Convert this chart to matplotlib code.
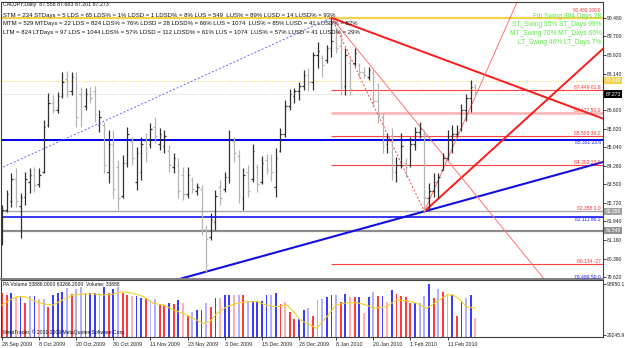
import matplotlib.pyplot as plt
import numpy as np

plt.rcParams['font.family'] = ['Liberation Sans', 'DejaVu Sans']

W, H = 625, 348


def fx(px):
    return px / W


def fy(py):
    return 1 - py / H


# ---- texts ----
title = 'CADJPY,Daily  87.558 87.683 87.201 87.273'
stats_lines = [
    'STM = 234 STDays = 5 LDS = 65 LDS% = 1% LDSD = 1 LDSD% = 8% LUS = 549  LUS% = 89% LUSD = 14 LUSD% = 93%',
    'MTM = 529 MTDays = 22 LDS = 824 LDS% = 76% LDSD = 28 LDSD% = 66% LUS = 1074  LUS% = 85% LUSD = 41 LUSD% = 82%',
    'LTM = 824 LTDays = 97 LDS = 1044 LDS% = 57% LDSD = 112 LDSD% = 61% LUS = 1074  LUS% = 57% LUSD = 41 LUSD% = 29%',
]
swing_lines = ['Fib Swing 804 Days 28', 'ST_Swing 95% ST_Days 99%',
               'MT_Swing 76% MT_Days 66%', 'LT_Swing 46% LT_Days 7%']
vol_title = 'PA Volume 33888.0000 63266.2000  Volume: 33888'
copyright_txt = 'MetaTrader, \u00a9 2001-2009 MetaQuotes Software Corp.'

date_labels = ['28 Sep 2009', '8 Oct 2009', '20 Oct 2009', '30 Oct 2009', '11 Nov 2009',
               '23 Nov 2009', '3 Dec 2009', '15 Dec 2009', '28 Dec 2009', '8 Jan 2010',
               '20 Jan 2010', '1 Feb 2010', '11 Feb 2010']
date_bars = [0, 8, 16, 24, 32, 40, 48, 56, 64, 72, 80, 88, 96]

# ---- daily OHLC ----
opens = [81.20, 82.40, 82.80, 83.70, 82.60, 82.95, 83.60, 83.90, 83.50, 84.00,
         86.00, 86.90, 86.60, 87.20, 87.90, 87.40, 87.95, 87.30, 86.80, 87.30,
         87.40, 86.00, 86.00, 84.00, 85.20, 84.20, 83.00, 84.40, 85.30, 83.60,
         84.00, 85.30, 85.20, 85.90, 85.20, 85.10, 84.90, 84.20, 84.30, 83.90,
         83.10, 83.70, 83.20, 83.30, 81.60, 81.30, 81.90, 83.40, 83.30, 83.80,
         85.30, 84.70, 82.90, 84.00, 83.70, 84.20, 83.60, 84.50, 84.60, 83.40,
         84.90, 85.60, 86.80, 87.20, 87.40, 87.60, 88.10, 87.80, 88.90, 88.80,
         88.70, 89.20, 89.60, 89.30, 87.60, 88.60, 88.60, 88.50, 88.20, 88.00,
         88.20, 87.00, 86.30, 85.20, 85.50, 84.00, 84.30, 84.40, 84.30, 85.20,
         85.70, 85.60, 82.90, 83.20, 83.60, 84.10, 84.60, 85.50, 85.60, 85.80,
         86.60, 87.10, 87.558]
highs = [82.63, 83.26, 83.96, 84.17, 83.12, 84.02, 84.17, 84.23, 84.17, 86.19,
         87.31, 87.24, 87.38, 88.22, 88.26, 88.22, 88.19, 87.59, 87.52, 87.59,
         87.62, 86.61, 86.12, 85.77, 85.77, 84.51, 84.72, 85.91, 85.49, 85.07,
         85.49, 85.63, 86.05, 86.33, 85.84, 85.77, 85.14, 84.80, 84.59, 84.23,
         84.23, 83.81, 83.54, 83.47, 81.79, 82.28, 83.26, 83.67, 84.02, 85.77,
         85.49, 84.93, 84.18, 84.30, 85.18, 84.35, 84.68, 84.77, 84.77, 85.02,
         85.86, 87.03, 87.49, 87.53, 87.79, 88.29, 88.37, 89.04, 89.46, 88.92,
         89.34, 90.48, 90.09, 89.84, 89.21, 88.79, 89.21, 88.58, 88.42, 88.42,
         88.37, 87.74, 86.48, 85.65, 85.86, 84.64, 85.65, 84.60, 85.48, 85.90,
         86.11, 85.77, 83.55, 83.97, 83.97, 84.81, 85.77, 85.98, 85.98, 86.86,
         87.28, 87.87, 87.683]
lows = [80.95, 82.35, 82.55, 82.55, 81.23, 82.63, 83.12, 83.18, 83.40, 83.96,
        85.91, 86.47, 86.47, 87.10, 87.17, 87.24, 85.91, 85.91, 86.61, 86.89,
        86.12, 85.70, 83.96, 83.54, 82.91, 82.42, 82.91, 84.23, 84.30, 83.26,
        83.67, 84.44, 85.00, 85.21, 84.93, 84.80, 84.02, 83.96, 82.91, 82.84,
        82.91, 83.12, 83.05, 81.37, 79.83, 81.16, 81.58, 82.63, 83.18, 83.54,
        84.44, 82.70, 82.42, 82.96, 83.59, 83.17, 83.51, 83.93, 83.63, 82.96,
        84.85, 85.48, 86.61, 86.91, 87.03, 87.45, 87.41, 87.45, 88.37, 87.99,
        88.58, 88.83, 89.00, 87.24, 87.24, 87.24, 88.46, 87.95, 87.95, 87.87,
        86.74, 86.07, 84.81, 84.81, 83.67, 83.59, 84.18, 83.80, 84.22, 84.93,
        85.44, 82.358, 82.38, 82.96, 82.92, 84.09, 84.51, 84.81, 85.48, 85.73,
        86.15, 86.53, 87.201]
closes = [82.40, 83.10, 83.70, 82.80, 82.95, 83.70, 83.90, 83.45, 83.90, 85.90,
          86.90, 86.60, 87.20, 87.80, 87.40, 88.00, 86.30, 86.50, 87.30, 87.10,
          86.40, 86.30, 84.30, 85.20, 83.30, 82.90, 84.40, 85.60, 84.60, 84.80,
          85.20, 84.80, 85.80, 85.50, 85.60, 85.50, 84.30, 84.60, 83.20, 83.10,
          83.90, 83.30, 83.40, 81.60, 81.20, 82.00, 83.00, 82.90, 83.80, 85.40,
          84.80, 83.00, 83.90, 83.20, 84.90, 83.50, 84.40, 84.10, 84.00, 84.60,
          85.60, 86.80, 87.30, 87.40, 87.60, 88.10, 87.80, 88.90, 89.10, 88.50,
          89.20, 89.50, 89.20, 87.60, 88.90, 87.50, 89.00, 88.20, 88.10, 88.30,
          87.00, 86.40, 85.10, 85.40, 84.00, 84.30, 85.10, 84.20, 85.20, 85.70,
          85.80, 82.90, 83.20, 83.60, 83.80, 84.60, 85.50, 85.60, 85.70, 86.60,
          87.10, 87.56, 87.273]

# ---- PA volume ----
volumes = [82100, 80000, 82100, 77900, 78700, 69400, 78700, 78700, 74500, 74500,
           65200, 80000, 83000, 84200, 88500, 81300, 87200, 89700, 82100, 83000,
           83000, 82100, 89700, 82100, 87200, 89700, 82100, 80000, 78700, 78700,
           75800, 75800, 73600, 74500, 68600, 67300, 70300, 68600, 73600, 70300,
           53800, 58900, 61000, 61000, 70300, 65200, 75800, 75800, 80000, 80000,
           80000, 80000, 80000, 72800, 72800, 72800, 72800, 80000, 80000, 82100,
           68600, 71500, 58900, 49500, 49100, 61000, 63100, 53400, 73700, 75300,
           77900, 80000, 80000, 71500, 81300, 77900, 77000, 77900, 56700, 77000,
           84200, 78700, 78700, 71500, 86300, 81300, 78700, 77900, 69400, 69400,
           70300, 78700, 93950, 75800, 87200, 84200, 81300, 80000, 53400, 71500,
           75800, 80000, 50400]
vol_kind = list('RRBPBRLBPL' 'RBBBLRLLRB' 'BLBRBLRRPB' 'BRLLRRBRBP' 'RLBBLRBPBB'
                'PLRLBBBBLB' 'RPRRBBLRLL' 'BBLRBPRBPB' 'LRBPBRRRRB' 'LLBRLRLBRB'
                'LBP')
ma_bar = [0, 1.7, 3.2, 5, 6.8, 9, 11, 13, 15.4, 17.5, 19.7, 21.8, 24, 26, 28.3, 30.5,
          32.6, 34.8, 37, 39, 41.2, 43.4, 44.8, 46.3, 48.4, 50.6, 52.7, 54.9, 57,
          59.2, 61.4, 63, 64.2, 65.7, 67.8, 70, 72, 74.3, 76.4, 78.6, 80, 82.9, 85,
          87.2, 89.4, 91.5, 93.7, 95.9, 97.3, 98.7, 100.1, 102]
ma_val = [67300, 73650, 77900, 77900, 72800, 68600, 67300, 73650, 80000, 81300,
          81300, 80000, 81300, 84200, 82100, 77900, 69400, 67300, 61000, 56700,
          50400, 44000, 46200, 56700, 65200, 69400, 71500, 71500, 67300, 65200,
          67300, 58000, 48300, 44000, 37700, 52500, 67300, 70300, 70300, 67300,
          63100, 65200, 73650, 72800, 69400, 63100, 71500, 80000, 80000, 73650,
          65200, 63100]

# ---- levels ----
price_ticks = [90.48, 89.70, 88.92, 88.14, 86.60, 85.82, 85.04, 84.26, 83.50,
               82.72, 81.94, 81.16, 80.38, 79.62]
fib_levels = [87.449, 86.477, 85.505, 84.302, 82.358, 80.134]
fib_tags = ['61.8', '50.0', '38.2', '23.6', '0.0', '-27']
swing_high = 90.48
swing_low = 82.358
yellow_level = 87.846
bid = 87.273
blue_levels = [85.351, 82.111, 79.489]
blue_tags = ['23.6', '86.2', '50.0']
gray_levels = [82.358, 81.548]

fig = plt.figure(figsize=(6.25, 3.48), dpi=100)
ax = fig.add_axes([fx(1.5), fy(279), fx(603) - fx(1.5), (279 - 2) / H])
av = fig.add_axes([fx(1.5), fy(337), fx(603) - fx(1.5), (337 - 280) / H], sharex=ax)

x0, x1 = -0.1, 129.5
idx = np.arange(len(highs))

# horizontal lines across the chart
ax.axhline(swing_high, color='#f6d24a', lw=1.6, zorder=1)
ax.axhline(yellow_level, color='#f0d040', lw=0.7, ls=':', zorder=1)
ax.axhline(bid, color='#c8c8c8', lw=0.7, ls=':', zorder=1)
ax.axhline(blue_levels[0], color='#0000ee', lw=1.4, zorder=1)
ax.axhline(gray_levels[0], color='#a8a8a8', lw=1.0, zorder=1)
ax.axhline(blue_levels[1], color='#0000ee', lw=1.1, zorder=1)
ax.axhline(gray_levels[1], color='#8c8c8c', lw=1.6, zorder=1)

# fib retracement levels from the swing high
for lv in fib_levels:
    if lv == 86.477:
        ax.hlines(lv, 71, x1, color='#ffb0b0', lw=1.8, zorder=1)
    elif lv != swing_low:
        ax.hlines(lv, 71, x1, color='#ff4040', lw=0.8, zorder=1)


def ray(p, q, **kw):
    (ax_, ay_), (bx_, by_) = p, q
    k = (by_ - ay_) / (bx_ - ax_)
    xs = np.array([ax_, x1])
    ax.plot(xs, ay_ + k * (xs - ax_), **kw)


# trend lines
ax.plot([-0.5, 71], [84.15, swing_high], color='#6060ff', lw=0.7, ls=(0, (2, 2)), zorder=2)
k_blue = (lows[91] - lows[44]) / (91 - 44)
xs = np.array([x0, x1])
ax.plot(xs, lows[44] + k_blue * (xs - 44), color='#1010e0', lw=1.5, zorder=2)
ax.plot([71, 91], [swing_high, swing_low], color='#ff4040', lw=0.7, ls=(0, (2, 2)), zorder=2)
ray((71, swing_high), (129.5, 86.25), color='#ff1a1a', lw=1.4, zorder=2)
ray((91, swing_low), (129.5, 89.18), color='#ff1a1a', lw=1.4, zorder=2)
ray((71, swing_high), (117, 79.48), color='#ff7070', lw=0.7, zorder=2)
ray((91, swing_low), (111.2, 91.23), color='#ff7070', lw=0.7, zorder=2)

# price bars
up = np.array(closes) >= np.array(opens)
bar_col = np.where(up, '#303030', '#b4b4b4')
ax.vlines(idx, lows, highs, colors=bar_col, lw=0.9, zorder=3)
ax.hlines(opens, idx - 0.35, idx, colors=bar_col, lw=0.9, zorder=3)
ax.hlines(closes, idx, idx + 0.35, colors=bar_col, lw=0.9, zorder=3)

ax.set_xlim(x0, x1)
ax.set_ylim(79.522, 91.142)

# level labels on the right side of the chart
for lv, tag in zip(fib_levels, fib_tags):
    ax.text(129.0, lv, f'{lv:.3f} {tag}', color='#ff3030', fontsize=3.6,
            ha='right', va='bottom', zorder=4)
for lv, tag in zip(blue_levels, blue_tags):
    ax.text(129.0, lv, f'{lv:.3f} {tag}', color='#2020ff', fontsize=3.6,
            ha='right', va='top' if lv != 79.489 else 'bottom', zorder=4)
ax.text(129.0, 90.70, f'{swing_high:.3f} 100.0', color='#ff3030',
        fontsize=3.4, ha='right', va='bottom', zorder=4)

# right price axis
ax.yaxis.tick_right()
ax.set_yticks(price_ticks)
ax.set_yticklabels([f'{t:.3f}' for t in price_ticks])
ax.tick_params(axis='y', labelsize=3.6, length=2, pad=1, width=0.6, colors='#202020')
ax.tick_params(axis='x', length=0, labelbottom=False)

for lv, txt, bg, fg in [(yellow_level, '87.846', '#f2d34a', 'white'),
                        (bid, '87.273', 'black', 'white'),
                        (gray_levels[0], '82.358', '#a0a0a0', 'white'),
                        (gray_levels[1], '81.548', '#909090', 'white')]:
    ax.text(1.004, lv, txt, transform=ax.get_yaxis_transform(), fontsize=3.6,
            color=fg, va='center', ha='left', zorder=5,
            bbox=dict(boxstyle='square,pad=0.25', fc=bg, ec='none'))

# volume panel
vol_colors = {'R': '#ff3c3c', 'B': '#3c3cff', 'P': '#ffb0b0', 'L': '#b0b0ff'}
av.bar(idx, volumes, width=0.4, color=[vol_colors[k] for k in vol_kind], zorder=2)
av.plot(ma_bar, ma_val, color='#f5d020', lw=0.8, zorder=3)
av.set_ylim(26710, 99025)
av.yaxis.tick_right()
av.set_yticks([93950.1, 29245.9])
av.set_yticklabels(['93950.1', '29245.9'])
av.tick_params(axis='y', labelsize=3.6, length=2, pad=1, width=0.6, colors='#202020')
av.set_xticks(date_bars)
av.set_xticklabels(date_labels)
for lab in av.get_xticklabels():
    lab.set_horizontalalignment('left')
av.tick_params(axis='x', labelsize=3.8, length=2, pad=1.5, width=0.6, colors='#202020')

for a in (ax, av):
    for s in a.spines.values():
        s.set_color('#404040')
        s.set_linewidth(0.8)
ax.spines['bottom'].set_color('#808080')
ax.spines['bottom'].set_linewidth(1.4)

# header texts
fig.text(fx(3), fy(4.5), title, fontsize=3.8, color='#101010', va='center')
for i, line in enumerate(stats_lines):
    fig.text(fx(3), fy(15 + 8.7 * i), line, fontsize=4.3, color='#101010', va='center')
for i, line in enumerate(swing_lines):
    fig.text(fx(601.5), fy(16 + 8.7 * i), line, fontsize=4.8, color='#5ee84a',
             va='center', ha='right')
fig.text(fx(3), fy(285), vol_title, fontsize=3.6, color='#101010', va='center')
fig.text(fx(3), fy(332.5), copyright_txt, fontsize=3.6, color='#101010', va='center')

fig.savefig('out.png', dpi=100, facecolor='white')
